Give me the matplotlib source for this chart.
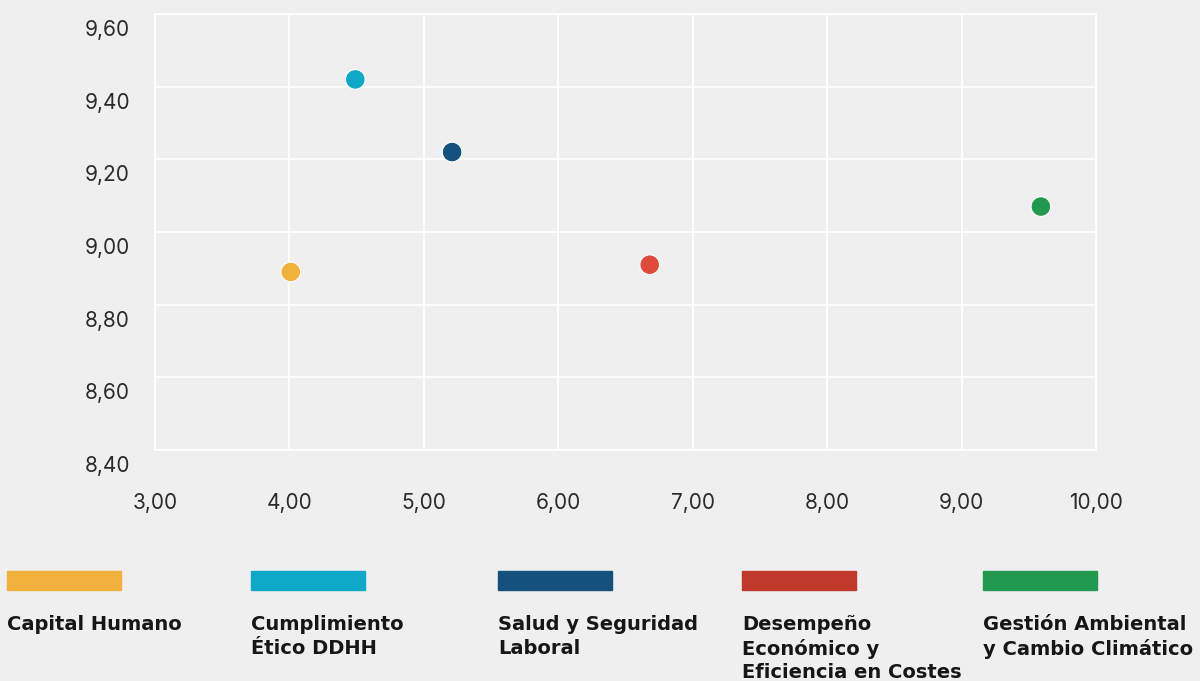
import numpy as np
import matplotlib
matplotlib.use("Agg")
import matplotlib.pyplot as plt
from matplotlib.patches import Rectangle
from matplotlib.transforms import ScaledTranslation

plt.rcParams['font.family'] = ['Inter', 'DejaVu Sans']

# data
categories = ["Capital Humano", "Cumplimiento\nÉtico DDHH", "Salud y Seguridad\nLaboral",
              "Desempeño\nEconómico y\nEficiencia en Costes", "Gestión Ambiental\ny Cambio Climático"]
x_vals = [4.01, 4.49, 5.21, 6.68, 9.59]
y_vals = [8.89, 9.42, 9.22, 8.91, 9.07]
point_colors = ["#F2B13C", "#0EA8C8", "#14527D", "#E04A3A", "#21994F"]
legend_colors = ["#F2B13C", "#0EA8C8", "#14527D", "#C0392B", "#21994F"]
x_ticks = [3, 4, 5, 6, 7, 8, 9, 10]
y_ticks = [8.4, 8.6, 8.8, 9.0, 9.2, 9.4, 9.6]

bg = "#EFEFEF"
W, H = 1200, 681
fig = plt.figure(figsize=(W / 100, H / 100), dpi=100, facecolor=bg)
ax = fig.add_axes([155 / W, 1 - 450 / H, (1096 - 155) / W, (450 - 14) / H])
ax.set_facecolor(bg)

ax.scatter(x_vals, y_vals, s=200, c=point_colors, edgecolors="white", linewidths=0.8, zorder=3)

ax.set_xlim(3, 10)
ax.set_ylim(8.4, 9.6)
ax.set_xticks(x_ticks)
ax.set_yticks(y_ticks)
ax.set_xticklabels([("%.2f" % v).replace(".", ",") for v in x_ticks])
ax.set_yticklabels([("%.2f" % v).replace(".", ",") for v in y_ticks])
ax.grid(True, color="white", linewidth=1.3)
ax.set_axisbelow(True)
for s in ax.spines.values():
    s.set_color("white")
    s.set_linewidth(1.3)
ax.tick_params(length=0, labelsize=15, colors="#2a2a2a")
ax.tick_params(axis="x", pad=31)
ax.tick_params(axis="y", pad=18)
shift = ScaledTranslation(0, -0.14, fig.dpi_scale_trans)
for lab in ax.get_yticklabels():
    lab.set_transform(lab.get_transform() + shift)

# legend below the chart
bar_x = [7, 251, 498, 742, 983]
for bx, col, name in zip(bar_x, legend_colors, categories):
    fig.patches.append(Rectangle((bx / W, 1 - 590 / H), 114 / W, 19 / H,
                                 transform=fig.transFigure, color=col))
    fig.text(bx / W, 1 - 615 / H, name, fontsize=14, fontweight="bold",
             family="DejaVu Sans", color="#161616", va="top", ha="left",
             linespacing=1.3)

fig.savefig("out.png", dpi=100, facecolor=bg)
